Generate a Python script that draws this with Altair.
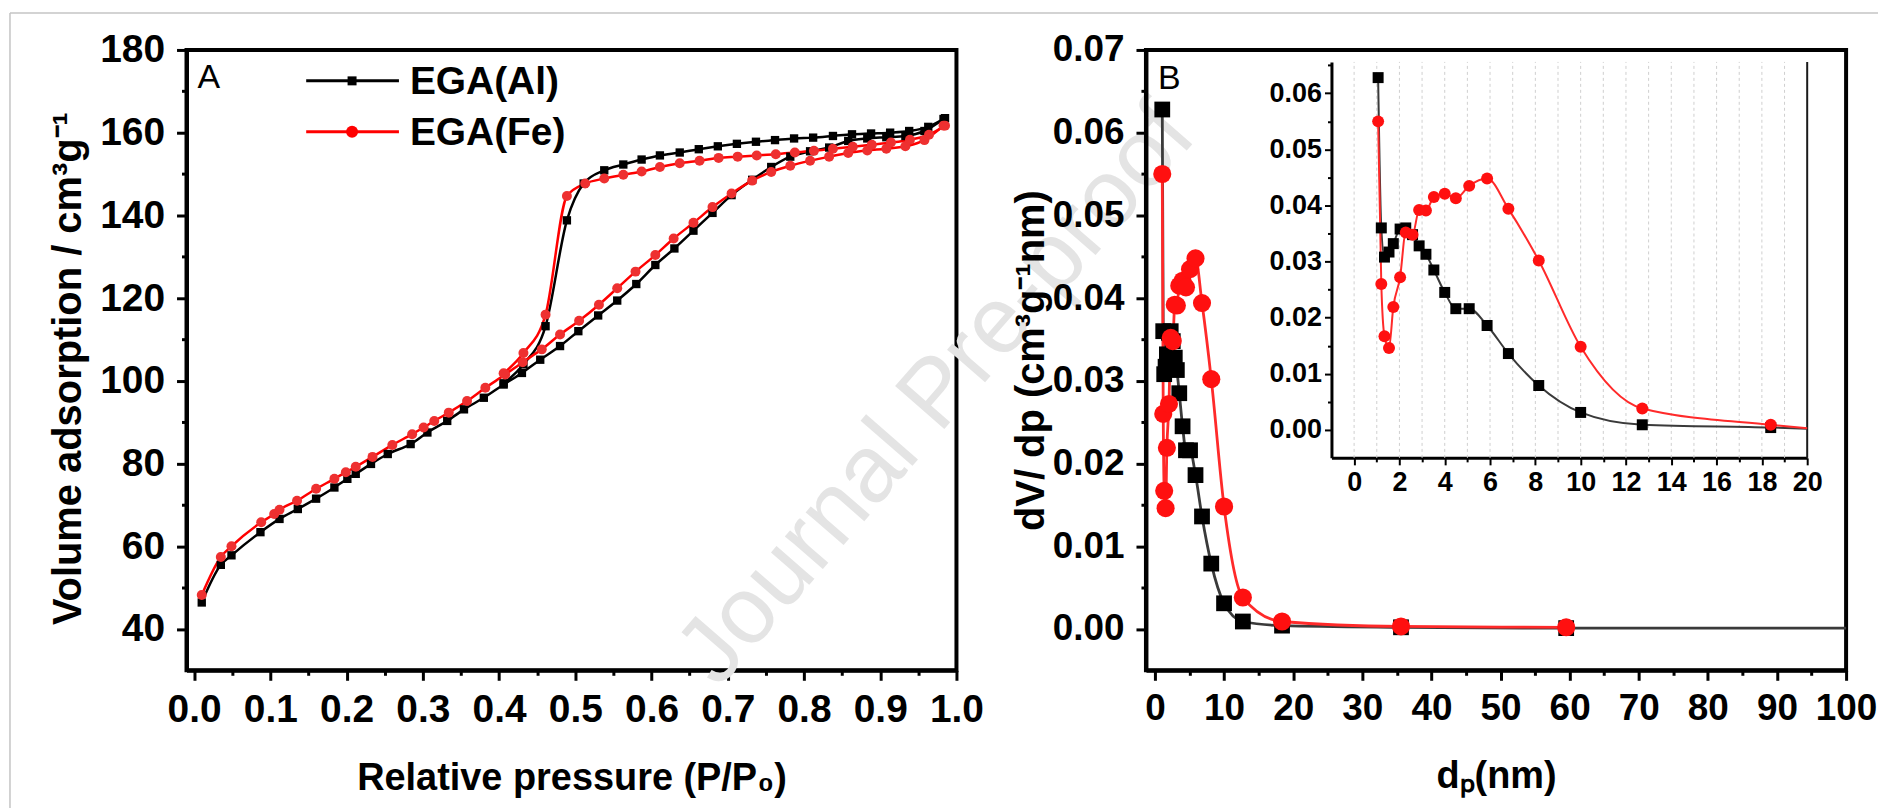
import altair as alt
import pandas as pd

FONT = "Liberation Sans, Arial, sans-serif"

# ---------------- Panel A : N2 adsorption/desorption isotherms ----------------
al_ads_p = [0.010, 0.035, 0.049, 0.087, 0.112, 0.136, 0.160, 0.184, 0.201, 0.212, 0.232, 0.254, 0.284, 0.306,
            0.332, 0.354, 0.380, 0.406, 0.430, 0.454, 0.480, 0.504, 0.530, 0.555, 0.580, 0.605, 0.630, 0.655,
            0.680, 0.705, 0.732, 0.757, 0.782, 0.808, 0.833, 0.858, 0.883, 0.908, 0.933, 0.958, 0.983]
al_ads_v = [46.4, 55.5, 57.8, 63.4, 66.6, 69.0, 71.5, 74.2, 76.3, 77.5, 79.9, 82.3, 84.7, 87.5,
            90.3, 93.1, 95.9, 99.1, 101.9, 105.1, 108.4, 112.0, 115.8, 119.4, 123.4, 128.0, 132.0, 136.3,
            140.6, 144.9, 148.6, 151.7, 154.2, 155.5, 156.4, 158.0, 158.6, 158.9, 159.2, 160.4, 163.3]
al_des_p = [0.985, 0.963, 0.938, 0.913, 0.888, 0.863, 0.838, 0.812, 0.787, 0.762, 0.737, 0.712, 0.687, 0.662,
            0.637, 0.611, 0.587, 0.563, 0.538, 0.511, 0.489, 0.461, 0.432, 0.406]
al_des_v = [163.5, 161.4, 160.4, 160.0, 159.8, 159.6, 159.2, 158.8, 158.6, 158.2, 157.8, 157.3, 156.7, 156.0,
            155.2, 154.5, 153.5, 152.3, 150.9, 147.7, 138.8, 113.2, 104.0, 99.4]
fe_ads_p = [0.010, 0.035, 0.049, 0.088, 0.105, 0.112, 0.135, 0.160, 0.184, 0.199, 0.212, 0.234, 0.260, 0.286,
            0.301, 0.315, 0.334, 0.358, 0.382, 0.408, 0.431, 0.456, 0.480, 0.505, 0.531, 0.555, 0.579, 0.605,
            0.629, 0.655, 0.680, 0.705, 0.732, 0.757, 0.782, 0.808, 0.833, 0.858, 0.883, 0.908, 0.933, 0.958, 0.983]
fe_ads_v = [48.2, 57.4, 60.0, 65.8, 67.8, 68.8, 71.0, 73.9, 76.3, 77.9, 79.2, 81.6, 84.5, 87.1,
            88.7, 90.3, 92.3, 95.1, 98.3, 101.5, 104.5, 107.6, 111.2, 114.5, 118.4, 122.4, 126.4, 130.4,
            134.4, 138.2, 142.0, 145.3, 148.4, 150.5, 152.0, 153.2, 154.2, 155.1, 155.7, 156.1, 156.7, 158.2, 161.7]
fe_des_p = [0.985, 0.964, 0.939, 0.914, 0.889, 0.864, 0.838, 0.813, 0.788, 0.763, 0.738, 0.713, 0.688, 0.663,
            0.637, 0.611, 0.587, 0.563, 0.538, 0.513, 0.489, 0.461, 0.432, 0.406]
fe_des_v = [161.7, 159.5, 158.3, 157.6, 157.1, 156.6, 156.1, 155.6, 155.2, 154.8, 154.5, 154.2, 153.9, 153.2,
            152.6, 151.7, 150.6, 149.8, 148.9, 147.7, 144.7, 116.0, 106.7, 101.8]

samples = ["EGA(Al)", "EGA(Fe)"]

# ---------------- Panel B : BJH pore size distribution ----------------
pore_d = [1.06, 1.20, 1.34, 1.54, 1.73, 2.03, 2.28, 2.58, 2.87, 3.17, 3.52, 4.00, 4.49, 5.08, 5.87, 6.81,
          8.15, 10.0, 12.72, 18.39, 35.6, 59.5]
al_dvdp = [0.0628, 0.0360, 0.0308, 0.0317, 0.0332, 0.0358, 0.0360, 0.0348, 0.0328, 0.0313, 0.0285, 0.0245,
           0.0216, 0.0216, 0.0186, 0.0136, 0.0079, 0.0031, 0.0009, 0.0004, 0.0002, 0.0001]
fe_dvdp = [0.0550, 0.0260, 0.0167, 0.0146, 0.0219, 0.0272, 0.0352, 0.0348, 0.0392, 0.0391, 0.0415, 0.0421,
           0.0413, 0.0435, 0.0448, 0.0394, 0.0302, 0.0148, 0.0038, 0.0009, 0.0003, 0.0002]
al_curve_end_d = [100.0]      # fitted Al curve continues to the axis end (no marker)
al_curve_end_y = [0.0001]

# tick positions
a_x_ticks = [0.0, 0.05, 0.1, 0.15, 0.2, 0.25, 0.3, 0.35, 0.4, 0.45, 0.5, 0.55, 0.6, 0.65, 0.7, 0.75, 0.8, 0.85,
             0.9, 0.95, 1.0]
a_y_ticks = [40, 50, 60, 70, 80, 90, 100, 110, 120, 130, 140, 150, 160, 170, 180]
b_x_ticks = [0, 5, 10, 15, 20, 25, 30, 35, 40, 45, 50, 55, 60, 65, 70, 75, 80, 85, 90, 95, 100]
b_y_ticks = [0.0, 0.005, 0.01, 0.015, 0.02, 0.025, 0.03, 0.035, 0.04, 0.045, 0.05, 0.055, 0.06, 0.065, 0.07]
in_x_ticks = list(range(0, 21))
in_y_ticks = [0.0, 0.005, 0.01, 0.015, 0.02, 0.025, 0.03, 0.035, 0.04, 0.045, 0.05, 0.055, 0.06, 0.065]
in_grid = list(range(0, 20))

# ---------------- tables ----------------
rows = []
for s, br, ps, vs in [(samples[0], "ads", al_ads_p, al_ads_v), (samples[0], "des", al_des_p, al_des_v),
                      (samples[1], "ads", fe_ads_p, fe_ads_v), (samples[1], "des", fe_des_p, fe_des_v)]:
    for i, (p, v) in enumerate(zip(ps, vs)):
        rows.append({"sample": s, "key": s + br, "p": p, "v": v, "o": i})
dfA = pd.DataFrame(rows)

rowsB = []
for s, ys in [(samples[0], al_dvdp), (samples[1], fe_dvdp)]:
    for d, y in zip(pore_d, ys):
        rowsB.append({"sample": s, "d": d, "y": y, "m": True})
for d, y in zip(al_curve_end_d, al_curve_end_y):
    rowsB.append({"sample": samples[0], "d": d, "y": y, "m": False})
dfB = pd.DataFrame(rowsB)
dfGrid = pd.DataFrame({"g": in_grid})


def axis(values, major, fmt, size=38, tick=10, minor=5, width=3, pad=12, **kw):
    return alt.Axis(values=values, grid=False, labelOverlap=False, labelFlush=False,
                    labelExpr=f"({major}) ? format(datum.value, '{fmt}') : ''",
                    tickSize={"condition": {"test": major, "value": tick}, "value": minor},
                    tickWidth=width, tickColor="black", domainColor="black",
                    labelFont=FONT, labelFontWeight="bold", labelFontSize=size, labelColor="black",
                    labelPadding=pad, titleFont=FONT, titleFontWeight="bold", titleColor="black", **kw)


def major01(scale):
    return f"abs(datum.value*{scale} - round(datum.value*{scale})) < 1e-6"


is_al = alt.datum.sample == samples[0]


def by_sample(a, b):
    return alt.condition(is_al, alt.value(a), alt.value(b))


shape_pt = by_sample("square", "circle")
color_pt = by_sample("#000000", "#ff1010")

WA, HA = 772, 622
WB, HB = 702, 622

# ---------------- Panel A ----------------
xA = alt.X("p:Q", scale=alt.Scale(domain=[-0.01, 1.0], nice=False, zero=False),
           axis=axis(a_x_ticks, major01(10), ".1f", size=39, pad=10, domainWidth=4, titleFontSize=38,
                     titlePadding=31),
           title="Relative pressure (P/P₀)")
yA = alt.Y("v:Q", scale=alt.Scale(domain=[30, 180], nice=False, zero=False),
           axis=axis(a_y_ticks, "datum.value % 20 === 0", "d", size=39, domainWidth=4, titleFontSize=40,
                     titlePadding=11, titleY=HA / 2 + 8),
           title="Volume adsorption / cm³g⁻¹")

baseA = alt.Chart(dfA)
watermark = alt.Chart(pd.DataFrame({"t": ["Journal Pre-proof"]})).mark_text(
    font=FONT, fontSize=95, angle=311, color="#e4e4e4", align="center", baseline="middle"
).encode(x=alt.value(752), y=alt.value(345), text="t:N")
border = [
    alt.Chart().mark_rule(color="#c4c4c4", strokeWidth=1.5).encode(
        x=alt.value(-177), x2=alt.value(1696), y=alt.value(-37)),
    alt.Chart().mark_rule(color="#c4c4c4", strokeWidth=1.5).encode(
        x=alt.value(-177), y=alt.value(-37), y2=alt.value(761)),
]
linesA = baseA.mark_line(interpolate="monotone", strokeWidth=2.5).encode(
    x=xA, y=yA, detail="key:N", order="o:Q", color=by_sample("#000000", "#ff0000"))
pointsA = baseA.mark_point(filled=True, opacity=1).encode(
    x=xA, y=yA, color=by_sample("#000000", "#ee3030"), shape=shape_pt, size=by_sample(70, 100))

legend_layers = []
leg_colors = ["#000000", "#ff0000"]
leg_shapes = ["square", "circle"]
leg_sizes = [81, 144]
for i, s in enumerate(samples):
    yy = 31 + 51 * i
    legend_layers += [
        alt.Chart().mark_rule(color=leg_colors[i], strokeWidth=3).encode(
            x=alt.value(120), x2=alt.value(213), y=alt.value(yy)),
        alt.Chart().mark_point(shape=leg_shapes[i], filled=True, opacity=1, color=leg_colors[i],
                               size=leg_sizes[i]).encode(x=alt.value(166), y=alt.value(yy)),
        alt.Chart().mark_text(font=FONT, fontWeight="bold", fontSize=39, align="left", baseline="middle",
                              color="black").encode(x=alt.value(224), y=alt.value(yy + 1), text=alt.value(s)),
    ]
labelA = alt.Chart().mark_text(font=FONT, fontSize=34, align="left", baseline="top", color="black").encode(
    x=alt.value(11), y=alt.value(11), text=alt.value("A"))

panelA = alt.layer(watermark, *border, linesA, pointsA, *legend_layers, labelA).properties(width=WA, height=HA)

# ---------------- Panel B ----------------
xB = alt.X("d:Q", scale=alt.Scale(domain=[-1.3, 100], nice=False, zero=False),
           axis=axis(b_x_ticks, "datum.value % 10 === 0", "d", size=37, pad=10, domainWidth=4, titleFontSize=38,
                     titlePadding=32),
           title="dₚ(nm)")
yB = alt.Y("y:Q", scale=alt.Scale(domain=[-0.005, 0.07], nice=False, zero=False),
           axis=axis(b_y_ticks, major01(100), ".2f", size=37, domainWidth=4, titleFontSize=40, titlePadding=1),
           title="dV/ dp (cm³g⁻¹nm)")

baseB = alt.Chart(dfB)
line_col = by_sample("#3a3a3a", "#ff2a2a")
linesB = baseB.mark_line(interpolate="monotone", strokeWidth=2.8).encode(
    x=xB, y=yB, detail="sample:N", order="d:Q", color=line_col)
pointsB = baseB.transform_filter("datum.m").mark_point(filled=True, opacity=1).encode(
    x=xB, y=yB, color=color_pt, shape=shape_pt, size=by_sample(250, 330))
labelB = alt.Chart().mark_text(font=FONT, fontSize=34, align="left", baseline="top", color="black").encode(
    x=alt.value(12), y=alt.value(12), text=alt.value("B"))
mainB = alt.layer(linesB, pointsB, labelB)

# inset (own scales placed inside panel B via explicit pixel ranges)
IN_L, IN_R, IN_T, IN_B = 186, 663, 12, 409
in_xs = alt.Scale(domain=[-1, 20], range=[IN_L, IN_R], nice=False, zero=False, clamp=True)
in_ys = alt.Scale(domain=[-0.005, 0.0656], range=[IN_B, IN_T], nice=False, zero=False)
in_xax = axis(in_x_ticks, "datum.value % 2 === 0", "d", size=27, tick=7, minor=4, width=2, pad=5,
              domainWidth=3, orient="bottom", offset=-(HB - IN_B), title=None)
in_yax = axis(in_y_ticks, major01(100), ".2f", size=27, tick=7, minor=4, width=2, pad=3,
              domainWidth=3, orient="left", offset=-IN_L, title=None)
xI = alt.X("d:Q", scale=in_xs, axis=in_xax, title=None)
yI = alt.Y("y:Q", scale=in_ys, axis=in_yax, title=None)
gridI = alt.Chart(dfGrid).mark_rule(color="#cfcfcf", strokeWidth=1, strokeDash=[3, 3]).encode(
    x=alt.X("g:Q", scale=in_xs, axis=in_xax, title=None),
    y=alt.datum(-0.005, scale=in_ys, axis=in_yax), y2=alt.datum(0.0656))
rightI = alt.Chart().mark_rule(color="#1a1a1a", strokeWidth=2).encode(
    x=alt.datum(20, scale=in_xs, axis=in_xax), y=alt.datum(-0.005, scale=in_ys, axis=in_yax), y2=alt.datum(0.0656))
linesI = baseB.transform_filter("datum.d <= 40").mark_line(interpolate="monotone", strokeWidth=2).encode(
    x=xI, y=yI, detail="sample:N", order="d:Q", color=line_col)
pointsI = baseB.transform_filter("datum.d <= 20").mark_point(filled=True, opacity=1).encode(
    x=xI, y=yI, color=color_pt, shape=shape_pt, size=by_sample(121, 144))
inset = alt.layer(gridI, rightI, linesI, pointsI)

panelB = alt.layer(mainB, inset).resolve_scale(x="independent", y="independent").properties(width=WB, height=HB)

chart = alt.hconcat(panelA, panelB, spacing=1147 - 185 - WA, bounds="flush").properties(
    padding={"left": 7, "top": 9, "right": 0, "bottom": 0}, background="white"
).configure_view(stroke="black", strokeWidth=4)

chart.save("out.html", embed_options={"renderer": "svg", "actions": False})
